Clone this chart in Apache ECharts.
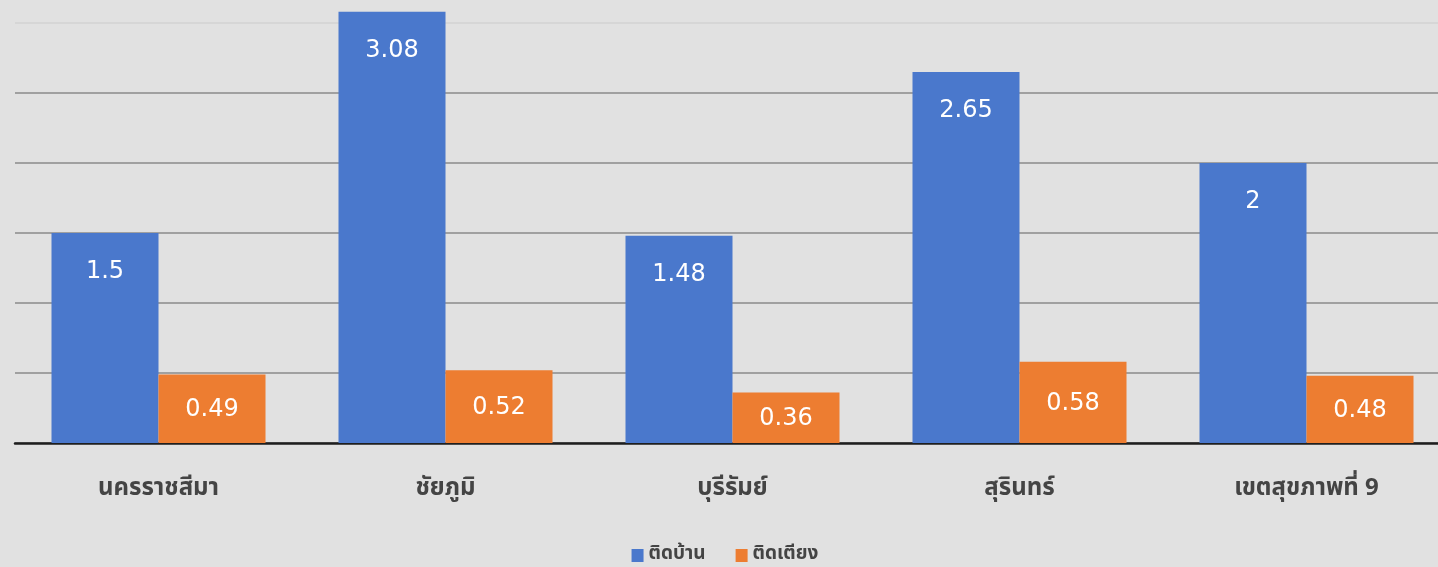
<!DOCTYPE html>
<html>
<head>
<meta charset="utf-8">
<script src="https://cdn.jsdelivr.net/npm/echarts@6/dist/echarts.min.js"></script>
<style>
html,body{margin:0;padding:0;background:#e1e1e1;overflow:hidden;width:1438px;height:567px;}
#c{width:1450px;height:614px;position:absolute;left:0;top:-47px;}
</style>
</head>
<body>
<div id="c"></div>
<script>
const categories = ['นครราชสีมา', 'ชัยภูมิ', 'บุรีรัมย์', 'สุรินทร์', 'เขตสุขภาพที่ 9'];
const seriesNames = ['ติดบ้าน', 'ติดเตียง'];
const homeBound = [1.5, 3.08, 1.48, 2.65, 2];
const bedBound = [0.49, 0.52, 0.36, 0.58, 0.48];

const thaiFont = "Tahoma, 'Noto Sans Thai', 'Noto Sans Thai UI', 'DejaVu Sans', sans-serif";
const numFont = "'DejaVu Sans', Tahoma, sans-serif";

const chart = echarts.init(document.getElementById('c'));
chart.setOption({
  backgroundColor: '#e1e1e1',
  animation: false,
  legend: {
    data: seriesNames,
    top: 588,
    left: 'center',
    itemWidth: 12,
    itemHeight: 13,
    itemGap: 30,
    icon: 'rect',
    textStyle: { color: '#444', fontSize: 19, fontFamily: thaiFont, fontWeight: 'bold' }
  },
  grid: { left: 15, right: 0, top: 0, bottom: 124, containLabel: false },
  xAxis: {
    type: 'category',
    data: categories,
    axisLine: { lineStyle: { color: '#1e1e1e', width: 2.5 } },
    axisTick: { show: false },
    axisLabel: { color: '#444', fontSize: 24, fontFamily: thaiFont, fontWeight: 'bold', margin: 35 }
  },
  yAxis: {
    type: 'value',
    min: 0,
    max: 3.5,
    interval: 0.5,
    axisLabel: { show: false },
    axisLine: { show: false },
    axisTick: { show: false },
    splitLine: { lineStyle: { color: ['#8a8a8a','#8a8a8a','#8a8a8a','#8a8a8a','#8a8a8a','#8a8a8a','#d2d2d2','#d2d2d2'], width: 1.5 } }
  },
  series: [
    {
      name: seriesNames[0], type: 'bar', data: homeBound,
      barWidth: 107, barGap: '0%',
      itemStyle: { color: '#4a78cc' },
      label: { show: true, position: 'insideTop', distance: 27, color: '#ffffff', fontFamily: numFont, fontSize: 24 }
    },
    {
      name: seriesNames[1], type: 'bar', data: bedBound,
      barWidth: 107,
      itemStyle: { color: '#ed7d31' },
      label: { show: true, position: 'inside', offset: [0, 1], color: '#ffffff', fontFamily: numFont, fontSize: 24 }
    }
  ]
});
</script>
</body>
</html>
